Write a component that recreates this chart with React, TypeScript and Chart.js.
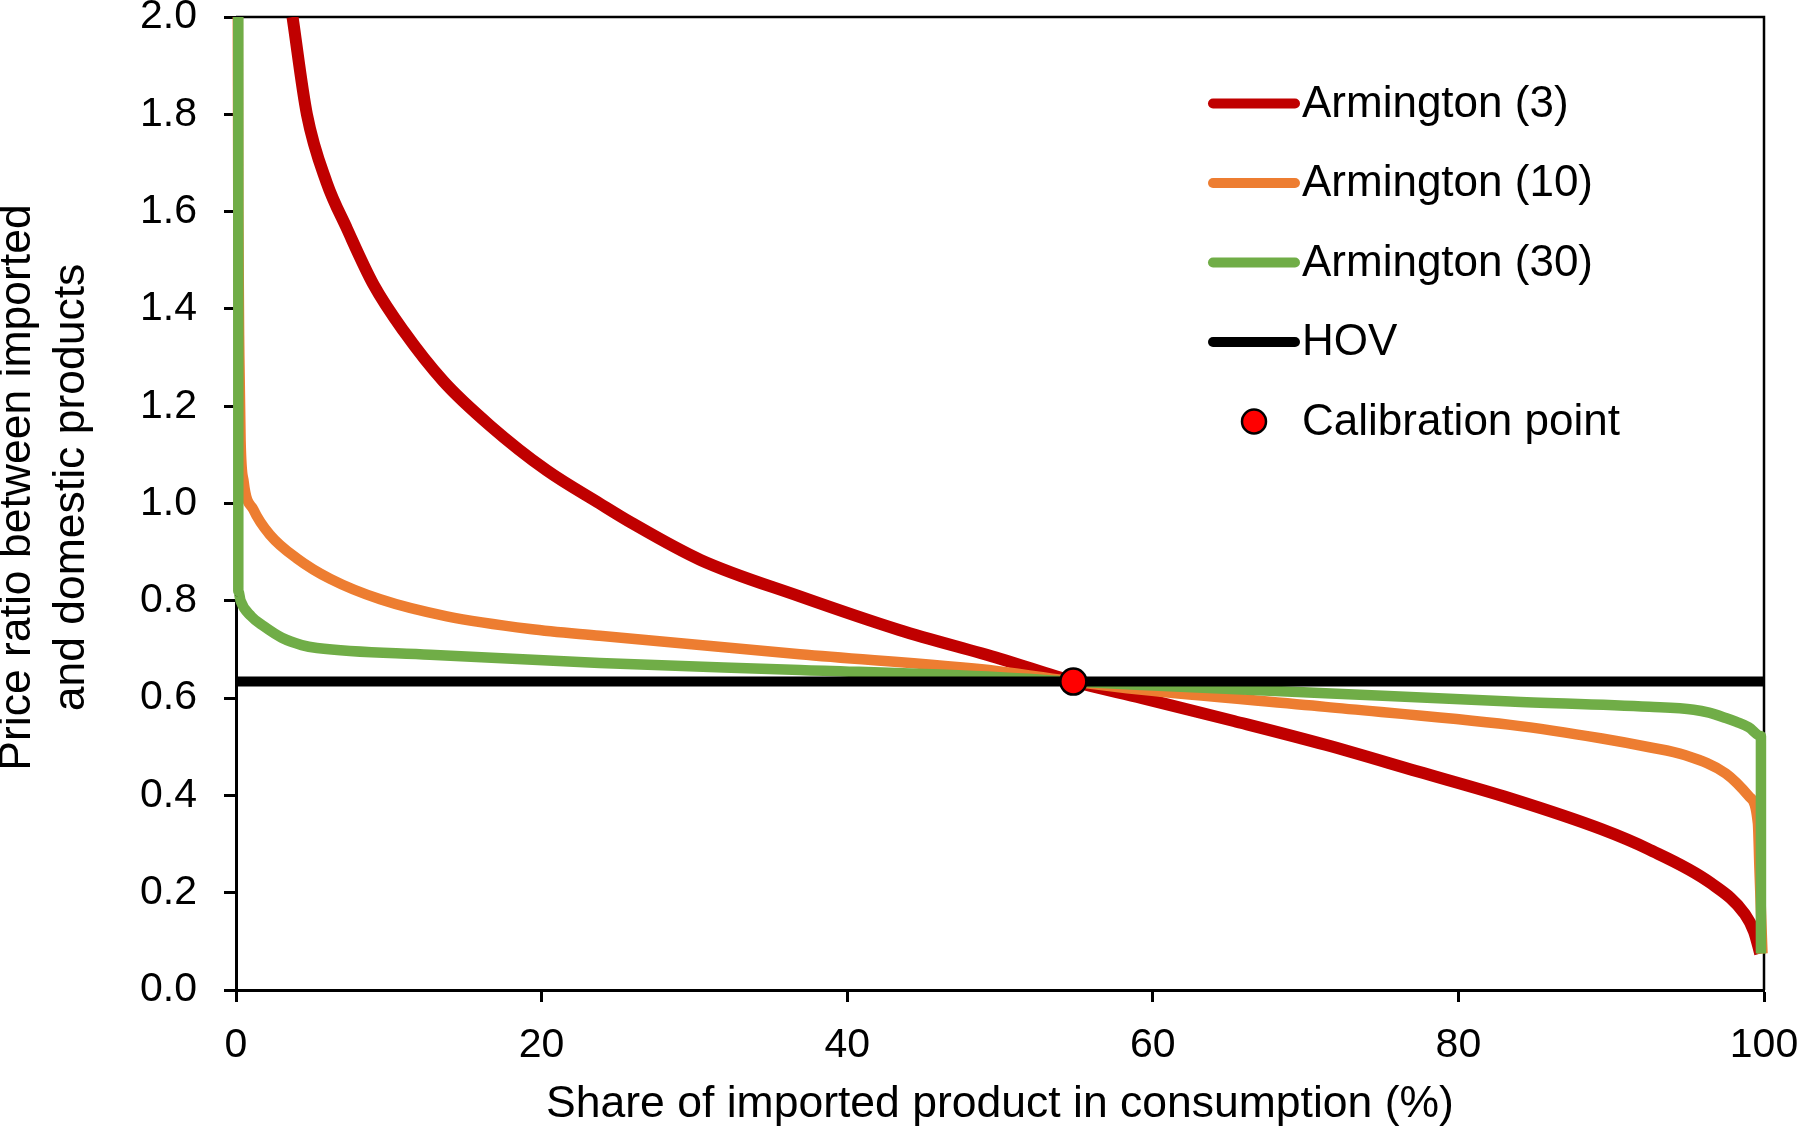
import React, { useEffect, useRef } from 'react';
import { Chart, registerables } from 'chart.js';

Chart.register(...registerables);

// ---- Data ----
const redShare = [3.7, 4.64, 5.93, 7.26, 9.0, 10.96, 13.58, 16.63, 20.34, 23.8, 25.79, 30.4, 36.9, 43.4, 50.0, 54.8, 59.3, 65.3, 71.3, 77.35, 83.37, 89.4, 92.4, 96.5, 98.75, 99.35, 99.75];
const redPrice = [2.0, 1.8, 1.66, 1.565, 1.45, 1.355, 1.251, 1.16, 1.068, 1.0, 0.962, 0.884, 0.809, 0.74, 0.681, 0.634, 0.6, 0.553, 0.504, 0.449, 0.394, 0.33, 0.29, 0.22, 0.156, 0.12, 0.075];

const orangeShare = [0.12, 0.15, 0.22, 0.3, 0.5, 1.15, 2.24, 3.99, 6.17, 9.44, 13.8, 19.25, 23.8, 36.9, 50.0, 54.8, 59.3, 71.3, 83.4, 89.4, 92.5, 94.8, 97.5, 99.05, 99.6, 99.7, 99.9];
const orangePrice = [2.0, 1.6, 1.3, 1.13, 1.045, 0.987, 0.935, 0.887, 0.845, 0.803, 0.768, 0.742, 0.728, 0.69, 0.655, 0.634, 0.617, 0.582, 0.545, 0.517, 0.499, 0.483, 0.445, 0.397, 0.343, 0.25, 0.075];

const greenShare = [0.15, 0.15, 0.3, 1.0, 1.8, 3.0, 4.3, 5.3, 12.7, 23.8, 36.9, 50.0, 54.8, 59.3, 71.3, 83.4, 92.5, 95.4, 96.4, 97.5, 98.2, 99.0, 99.8, 99.8];
const greenPrice = [2.0, 0.82, 0.8, 0.768, 0.748, 0.724, 0.709, 0.703, 0.689, 0.672, 0.658, 0.643, 0.634, 0.627, 0.61, 0.593, 0.582, 0.576, 0.57, 0.559, 0.551, 0.54, 0.522, 0.075];

const hovShare = [0, 100];
const hovPrice = [0.634, 0.634];

const calibShare = [54.8];
const calibPrice = [0.634];

const xTickValues = [0, 20, 40, 60, 80, 100];
const yTickStep = 0.2;

const seriesLabels = ['Armington (3)', 'Armington (10)', 'Armington (30)', 'HOV', 'Calibration point'];
const seriesColors = ['#C00000', '#ED7D31', '#70AD47', '#000000', '#FF0000'];
const xTitle = 'Share of imported product in consumption (%)';
const yTitleLines = ['Price ratio between imported', 'and domestic products'];

const FONT = "'Liberation Sans', Arial, sans-serif";

const toPts = (xs: number[], ys: number[]) => xs.map((x, i) => ({ x, y: ys[i] }));

const framePlugin = {
  id: 'frame',
  beforeDatasetsDraw(chart: any) {
    const { ctx, chartArea } = chart;
    ctx.save();
    ctx.strokeStyle = '#000';
    ctx.lineWidth = 2.5;
    ctx.beginPath();
    ctx.moveTo(chartArea.left, chartArea.top);
    ctx.lineTo(chartArea.right, chartArea.top);
    ctx.lineTo(chartArea.right, chartArea.bottom);
    ctx.stroke();
    ctx.restore();
  },
};

const yTitlePlugin = {
  id: 'yTitle',
  afterDraw(chart: any) {
    const { ctx, chartArea } = chart;
    const cy = (chartArea.top + chartArea.bottom) / 2 - 16;
    ctx.save();
    ctx.font = `44.5px ${FONT}`;
    ctx.fillStyle = '#000';
    ctx.textAlign = 'center';
    ctx.textBaseline = 'middle';
    yTitleLines.forEach((line, i) => {
      ctx.save();
      ctx.translate(18 + i * 53.5, cy);
      ctx.rotate(-Math.PI / 2);
      ctx.fillText(line, 0, 0);
      ctx.restore();
    });
    ctx.restore();
  },
};

const legendPlugin = {
  id: 'customLegend',
  afterDraw(chart: any) {
    const { ctx, chartArea } = chart;
    const lineX0 = chartArea.right - 551;
    const lineX1 = chartArea.right - 469;
    const textX = chartArea.right - 462;
    const rowY0 = chartArea.top + 86.5;
    const rowGap = 79.5;
    ctx.save();
    ctx.font = `44px ${FONT}`;
    ctx.textBaseline = 'middle';
    ctx.textAlign = 'left';
    seriesLabels.forEach((label, i) => {
      const y = rowY0 + i * rowGap;
      if (i < 4) {
        ctx.strokeStyle = seriesColors[i];
        ctx.lineWidth = 10;
        ctx.lineCap = 'round';
        ctx.beginPath();
        ctx.moveTo(lineX0, y);
        ctx.lineTo(lineX1, y);
        ctx.stroke();
      } else {
        ctx.beginPath();
        ctx.arc((lineX0 + lineX1) / 2, y, 12, 0, Math.PI * 2);
        ctx.fillStyle = seriesColors[i];
        ctx.fill();
        ctx.lineWidth = 2.5;
        ctx.strokeStyle = '#000';
        ctx.stroke();
      }
      ctx.fillStyle = '#000';
      ctx.fillText(label, textX, y + 1);
    });
    ctx.restore();
  },
};

export default function App() {
  const ref = useRef<HTMLCanvasElement>(null);

  useEffect(() => {
    const canvas = ref.current;
    if (!canvas) return;
    const lineClip = { left: 8, top: 0, right: 8, bottom: 8 };
    const chart = new Chart(canvas, {
      type: 'line',
      data: {
        datasets: [
          {
            label: seriesLabels[4],
            data: toPts(calibShare, calibPrice),
            showLine: false,
            pointRadius: 13,
            pointBackgroundColor: seriesColors[4],
            pointBorderColor: '#000',
            pointBorderWidth: 2.5,
            order: 0,
            clip: false as any,
          },
          {
            label: seriesLabels[3],
            data: toPts(hovShare, hovPrice),
            borderColor: seriesColors[3],
            borderWidth: 10,
            pointRadius: 0,
            order: 1,
            clip: lineClip as any,
          },
          {
            label: seriesLabels[2],
            data: toPts(greenShare, greenPrice),
            borderColor: seriesColors[2],
            borderWidth: 10.5,
            pointRadius: 0,
            cubicInterpolationMode: 'monotone',
            borderJoinStyle: 'round',
            order: 2,
            clip: lineClip as any,
          },
          {
            label: seriesLabels[1],
            data: toPts(orangeShare, orangePrice),
            borderColor: seriesColors[1],
            borderWidth: 10.5,
            pointRadius: 0,
            cubicInterpolationMode: 'monotone',
            borderJoinStyle: 'round',
            order: 3,
            clip: lineClip as any,
          },
          {
            label: seriesLabels[0],
            data: toPts(redShare, redPrice),
            borderColor: seriesColors[0],
            borderWidth: 12,
            pointRadius: 0,
            cubicInterpolationMode: 'monotone',
            borderJoinStyle: 'round',
            order: 4,
            clip: lineClip as any,
          },
        ],
      },
      options: {
        responsive: false,
        animation: false,
        devicePixelRatio: 1,
        layout: { padding: { top: 17, right: 36, bottom: 0, left: 0 } },
        plugins: { legend: { display: false }, tooltip: { enabled: false } },
        scales: {
          x: {
            type: 'linear',
            min: 0,
            max: 100,
            afterBuildTicks: (s: any) => {
              s.ticks = xTickValues.map((v) => ({ value: v }));
            },
            ticks: {
              color: '#000',
              font: { family: FONT, size: 41 },
              padding: 19,
              maxRotation: 0,
              callback: (v: any) => String(v),
            },
            grid: {
              display: true,
              drawOnChartArea: false,
              drawTicks: true,
              tickLength: 12,
              tickWidth: 3,
              tickColor: '#000',
            },
            border: { display: true, color: '#000', width: 3 },
            title: {
              display: true,
              text: xTitle,
              color: '#000',
              font: { family: FONT, size: 44.5, lineHeight: 1.2 },
              padding: { top: 0, bottom: -2 },
            },
            afterFit: (s: any) => {
              s.height = 139;
              s.paddingLeft = 0;
              s.paddingRight = 0;
            },
          },
          y: {
            type: 'linear',
            min: 0,
            max: 2,
            ticks: {
              stepSize: yTickStep,
              color: '#000',
              font: { family: FONT, size: 41 },
              padding: 27,
              callback: (v: any) => Number(v).toFixed(1),
            },
            grid: {
              display: true,
              drawOnChartArea: false,
              drawTicks: true,
              tickLength: 12,
              tickWidth: 3,
              tickColor: '#000',
            },
            border: { display: true, color: '#000', width: 3 },
            title: { display: false },
            afterFit: (s: any) => {
              s.width = 236;
              s.paddingTop = 0;
              s.paddingBottom = 0;
            },
          },
        },
      } as any,
      plugins: [framePlugin, legendPlugin, yTitlePlugin],
    });
    return () => chart.destroy();
  }, []);

  return (
    <div style={{ position: 'fixed', left: 0, top: 0, width: 1800, height: 1129, background: '#fff' }}>
      <canvas ref={ref} width={1800} height={1129} style={{ display: 'block' }} />
    </div>
  );
}
